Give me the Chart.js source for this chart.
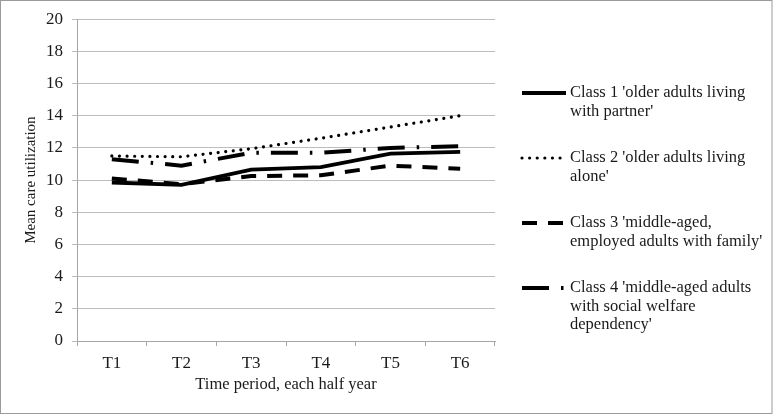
<!DOCTYPE html>
<html>
<head>
<meta charset="utf-8">
<script src="https://cdn.jsdelivr.net/npm/chart.js@4.4.1/dist/chart.umd.min.js"></script>
<style>
  html, body { margin: 0; padding: 0; background: #fff; }
  #wrap { width: 781px; height: 416px; }
</style>
</head>
<body>
<div id="wrap"><canvas id="c" width="781" height="416"></canvas></div>
<script>
// ---- Data ----
const categories = ["T1", "T2", "T3", "T4", "T5", "T6"];
const class1 = [9.85, 9.7, 10.65, 10.8, 11.65, 11.75];
const class2 = [11.5, 11.45, 11.95, 12.6, 13.3, 14.0];
const class3 = [10.1, 9.75, 10.25, 10.3, 10.9, 10.7];
const class4 = [11.3, 10.9, 11.7, 11.7, 12.0, 12.1];
const legendLines = [
  ["Class 1 'older adults living", "with partner'"],
  ["Class 2 'older adults living", "alone'"],
  ["Class 3 'middle-aged,", "employed adults with family'"],
  ["Class 4 'middle-aged adults", "with social welfare", "dependency'"]
];
const yAxisTitle = "Mean care utilization";
const xAxisTitle = "Time period, each half year";

const FONT = "'Liberation Serif', 'Times New Roman', serif";
const TEXT = "#1a1a1a";

const datasets = [
  { label: legendLines[0].join(" "), data: class1, borderColor: "#000", borderWidth: 3.8, borderDash: [], borderCapStyle: "butt" },
  { label: legendLines[1].join(" "), data: class2, borderColor: "#000", borderWidth: 3.2, borderDash: [0.01, 7.6], borderCapStyle: "round" },
  { label: legendLines[2].join(" "), data: class3, borderColor: "#000", borderWidth: 4, borderDash: [15, 11], borderCapStyle: "butt" },
  { label: legendLines[3].join(" "), data: class4, borderColor: "#000", borderWidth: 4, borderDash: [27, 12, 2.5, 12], borderCapStyle: "butt" }
].map(d => Object.assign(d, { pointRadius: 0, pointHoverRadius: 0, tension: 0, fill: false }));

// custom multi-line legend drawn from dataset styles
const legendRows = [93, 158, 223, 288];
const sideLegend = {
  id: "sideLegend",
  afterDraw(chart) {
    const ctx = chart.ctx;
    ctx.save();
    chart.data.datasets.forEach((ds, i) => {
      const y = legendRows[i];
      ctx.beginPath();
      ctx.lineWidth = ds.borderWidth;
      ctx.strokeStyle = ds.borderColor;
      ctx.lineCap = ds.borderCapStyle;
      ctx.setLineDash(ds.borderDash);
      ctx.moveTo(522, y);
      ctx.lineTo(566, y);
      ctx.stroke();
      ctx.setLineDash([]);
      ctx.fillStyle = TEXT;
      ctx.font = "16.5px " + FONT;
      ctx.textBaseline = "middle";
      ctx.textAlign = "left";
      legendLines[i].forEach((t, k) => ctx.fillText(t, 570, y + k * 18.5));
    });
    ctx.restore();
  }
};
const frame = {
  id: "frame",
  beforeDraw(chart) {
    const ctx = chart.ctx;
    ctx.save();
    ctx.fillStyle = "#fff";
    ctx.fillRect(0, 0, chart.width, chart.height);
    ctx.strokeStyle = "#9a9a9a";
    ctx.lineWidth = 1;
    ctx.strokeRect(0.5, 0.5, 771.5, 413);
    ctx.restore();
  }
};

new Chart(document.getElementById("c"), {
  type: "line",
  data: { labels: categories, datasets },
  options: {
    responsive: false,
    animation: false,
    events: [],
    layout: { padding: { left: 10, right: 286, top: 19, bottom: 10 } },
    plugins: { legend: { display: false }, tooltip: { enabled: false } },
    scales: {
      x: {
        offset: true,
        grid: { offset: true, drawOnChartArea: false, drawTicks: true, tickLength: 5, color: "#a6a6a6" },
        border: { display: true, color: "#a6a6a6", width: 1 },
        ticks: { color: TEXT, font: { family: FONT, size: 17 }, padding: 7, maxRotation: 0 },
        title: { display: true, text: xAxisTitle, color: TEXT, font: { family: FONT, size: 16.5 }, padding: { top: 0, bottom: 11 } },
        afterFit(scale) { scale.height = 65; }
      },
      y: {
        min: 0, max: 20,
        ticks: { stepSize: 2, color: TEXT, font: { family: FONT, size: 17 }, padding: 9 },
        grid: { color: "#bdbdbd", tickLength: 5, drawTicks: true },
        border: { display: true, color: "#a6a6a6", width: 1 },
        title: { display: true, text: yAxisTitle, color: TEXT, font: { family: FONT, size: 15 }, padding: { top: 12, bottom: 0 } },
        afterFit(scale) { scale.width = 67; }
      }
    }
  },
  plugins: [frame, sideLegend]
});
</script>
</body>
</html>
